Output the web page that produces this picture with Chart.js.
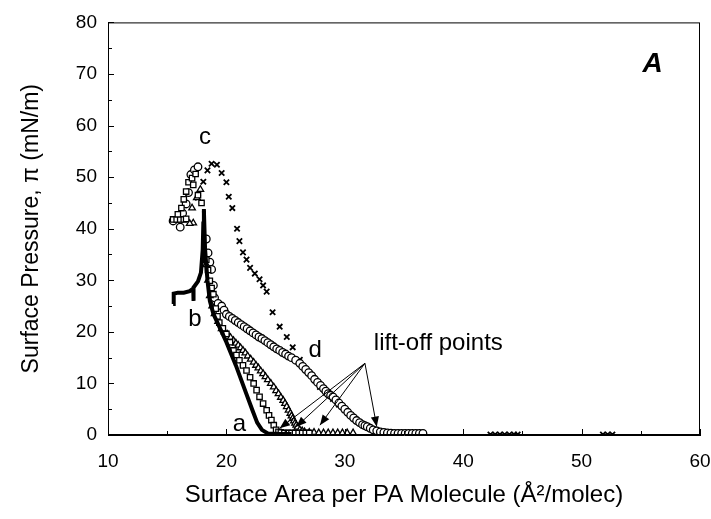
<!DOCTYPE html>
<html>
<head>
<meta charset="utf-8">
<script src="https://cdn.jsdelivr.net/npm/chart.js@4.4.1/dist/chart.umd.min.js"></script>
<style>
  html, body { margin: 0; padding: 0; background: #fff; }
  #wrap { width: 711px; height: 519px; }
</style>
</head>
<body>
<div id="wrap"><canvas id="chart"></canvas></div>
<script>
// isotherm a (thick line)
var aX = [18.1, 18.2, 18.4, 18.6, 18.9, 19.3, 20.0, 20.8, 21.6, 22.2, 22.6, 23.0, 23.5, 24.5, 25.5];
var aY = [43.5, 36.0, 30.0, 26.0, 23.5, 21.5, 18.0, 13.5, 8.5, 4.8, 2.4, 1.0, 0.3, 0.2, 0.2];

// isotherm b (thick line, collapse plateau)
var bX = [15.5, 15.55, 15.9, 16.4, 16.9, 17.2, 17.2, 17.25, 17.6, 17.85, 18.0, 18.05, 18.1];
var bY = [25.4, 27.4, 27.6, 27.6, 27.9, 28.4, 26.0, 28.6, 29.8, 31.5, 36.0, 41.0, 43.8];

// open squares
var sqX = [15.5, 15.8, 16.1, 16.4, 16.6, 15.9, 16.2, 16.4, 16.6, 16.8, 17.1, 17.4, 17.2, 17.6, 17.9,
           18.3, 18.45, 18.6, 18.75, 18.9, 19.1, 19.25, 19.4, 19.7, 20.0, 20.3, 20.6, 20.85, 21.1, 21.4, 21.7,
           22.0, 22.3, 22.55, 22.8, 23.1, 23.4, 23.6, 23.8, 24.0, 24.2, 24.4, 24.6, 24.9, 25.2, 25.5, 25.8,
           26.1, 26.4, 26.7, 27.0];
var sqY = [41.8, 41.8, 41.8, 41.8, 41.9, 42.8, 44.0, 45.7, 47.2, 49.0, 49.8, 50.6, 48.5, 46.5, 45.0,
           34.0, 32.0, 29.9, 28.5, 27.3, 24.5, 23.0, 21.8, 20.7, 19.6, 18.0, 16.4, 15.5, 14.5, 13.5, 12.5,
           11.2, 10.0, 8.7, 7.4, 6.1, 4.8, 3.8, 2.9, 1.9, 1.0, 0.6, 0.5, 0.4, 0.4, 0.4, 0.4,
           0.4, 0.4, 0.4, 0.4];

// open triangles
var trX = [17.1, 17.2, 17.5, 17.8, 16.9,
           18.3, 18.45, 18.6, 18.8, 19.0, 19.3, 19.6, 19.85, 20.1, 20.35, 20.6, 20.8, 21.0, 21.2, 21.4, 21.6,
           21.8, 22.05, 22.3, 22.5, 22.7, 22.9, 23.1, 23.3, 23.5, 23.75, 24.0, 24.2, 24.4, 24.6, 24.8, 24.95,
           25.1, 25.25, 25.4, 25.5, 25.6, 25.7, 25.8, 25.9, 26.0, 26.2, 26.4, 26.6,
           27.0, 27.4, 27.8, 28.2, 28.6, 29.0, 29.4, 29.8, 30.2, 30.7];
var trY = [44.0, 41.1, 46.0, 47.6, 41.0,
           33.0, 30.0, 27.0, 25.0, 23.5, 22.0, 20.6, 20.0, 19.5, 18.9, 18.3, 17.8, 17.4, 16.9, 16.4, 15.9,
           15.3, 14.7, 14.1, 13.5, 13.0, 12.4, 11.9, 11.3, 10.7, 10.0, 9.3, 8.6, 8.0, 7.3, 6.7, 6.1,
           5.5, 4.8, 4.2, 3.7, 3.2, 2.7, 2.3, 1.9, 1.5, 1.0, 0.8, 0.6,
           0.5, 0.5, 0.4, 0.4, 0.4, 0.4, 0.4, 0.4, 0.4, 0.4];

// open circles (d)
var dX = [15.5, 16.1, 16.3, 16.6, 16.8, 17.0, 17.3, 17.6,
          18.3, 18.45, 18.6, 18.75, 18.9, 19.0, 19.3, 19.6, 19.8, 20.0, 20.25, 20.5, 20.75, 21.0, 21.25, 21.5,
          21.75, 22.0, 22.25, 22.5, 22.75, 23.0, 23.25, 23.5, 23.75, 24.0, 24.25, 24.5, 24.75, 25.0, 25.25,
          25.5, 25.85, 26.2, 26.45, 26.7, 26.95, 27.2, 27.45, 27.7, 27.95, 28.2, 28.4, 28.6, 28.8, 29.0,
          29.25, 29.5, 29.75, 30.0, 30.25, 30.5, 30.75, 31.0, 31.25, 31.5, 31.7, 31.9, 32.15, 32.4, 32.7,
          33.0, 33.3, 33.6, 33.9, 34.2, 34.5, 34.8, 35.1, 35.4, 35.7, 36.0, 36.3, 36.6];
var dY = [41.5, 40.3, 43.0, 44.8, 47.0, 50.5, 51.4, 52.0,
          38.0, 35.3, 33.5, 32.1, 29.0, 26.6, 25.5, 25.0, 24.2, 23.4, 23.0, 22.6, 22.2, 21.8, 21.4, 21.0,
          20.6, 20.2, 19.8, 19.4, 19.0, 18.7, 18.3, 17.9, 17.5, 17.1, 16.7, 16.4, 16.0, 15.7, 15.3,
          15.0, 14.5, 13.9, 13.3, 12.7, 12.1, 11.5, 10.8, 10.2, 9.6, 9.0, 8.5, 8.0, 7.7, 7.4,
          6.8, 6.2, 5.6, 5.0, 4.4, 3.8, 3.3, 2.8, 2.4, 2.0, 1.8, 1.6, 1.3, 1.0, 0.8,
          0.6, 0.5, 0.4, 0.35, 0.3, 0.3, 0.3, 0.3, 0.3, 0.3, 0.3, 0.3, 0.3];

// crosses (c)
var cX = [17.6, 18.05, 18.4, 18.75, 19.2, 19.6, 20.0, 20.2, 20.5, 20.9, 21.1, 21.4, 21.7, 22.0, 22.4, 22.8,
          23.1, 23.4, 23.9, 24.5, 25.1, 25.6, 26.2, 26.6, 27.0, 27.5, 27.9, 28.4, 29.0, 29.5, 30.0, 30.5,
          31.0, 31.5, 32.0, 32.5, 33.0, 33.5, 34.0, 34.5, 35.0, 35.5, 36.0,
          42.3, 42.7, 43.1, 43.5, 43.9, 44.3, 44.6, 51.8, 52.2, 52.6];
var cY = [46.0, 49.1, 51.3, 52.6, 52.4, 50.8, 49.0, 46.2, 44.0, 40.0, 37.6, 35.4, 34.0, 32.4, 31.3, 30.2,
          29.0, 27.8, 23.8, 21.0, 19.0, 17.0, 14.6, 13.0, 12.0, 10.6, 9.3, 8.2, 7.0, 5.9, 4.8, 3.8,
          2.8, 2.0, 1.4, 0.9, 0.6, 0.4, 0.3, 0.3, 0.3, 0.3, 0.3,
          0.1, 0.1, 0.1, 0.1, 0.1, 0.1, 0.1, 0.1, 0.1, 0.1];

// lift-off arrows: start and tips (data units)
var arrowFrom = [31.7, 13.9];
var arrowTipX = [24.5, 25.9, 27.9, 32.7];
var arrowTipY = [1.3, 1.6, 1.9, 1.6];

var xTicks = [10, 20, 30, 40, 50, 60];
var yTicks = [0, 10, 20, 30, 40, 50, 60, 70, 80];

function pts(xs, ys) {
    var out = [];
    for (var i = 0; i < xs.length; i++) out.push({x: xs[i], y: ys[i]});
    return out;
}

var FONT = "'Liberation Sans', Arial, Helvetica, sans-serif";

// box, inward ticks, labels and arrows
var decor = {
    id: 'decor',
    afterDatasetsDraw: function(chart) {
        var ctx = chart.ctx;
        var xs = chart.scales.x, ys = chart.scales.y;
        var ca = chart.chartArea;
        ctx.save();
        ctx.strokeStyle = '#000';
        ctx.lineWidth = 1;
        ctx.strokeRect(ca.left + 0.5, ca.top + 0.5, ca.right - ca.left - 1, ca.bottom - ca.top - 1);

        ctx.beginPath();
        for (var v = 10; v <= 60; v += 5) {
            var px = Math.round(xs.getPixelForValue(v)) + 0.5;
            var len = (v % 10 === 0) ? 6 : 4;
            ctx.moveTo(px, ca.bottom);
            ctx.lineTo(px, ca.bottom - len);
        }
        for (var w = 0; w <= 80; w += 5) {
            var py = Math.round(ys.getPixelForValue(w)) + 0.5;
            var l2 = (w % 10 === 0) ? 6 : 4;
            ctx.moveTo(ca.left, py);
            ctx.lineTo(ca.left + l2, py);
        }
        ctx.stroke();

        // arrows
        var ox = xs.getPixelForValue(arrowFrom[0]), oy = ys.getPixelForValue(arrowFrom[1]);
        ctx.fillStyle = '#000';
        for (var i = 0; i < arrowTipX.length; i++) {
            var tx = xs.getPixelForValue(arrowTipX[i]), ty = ys.getPixelForValue(arrowTipY[i]);
            ctx.beginPath();
            ctx.moveTo(ox, oy);
            ctx.lineTo(tx, ty);
            ctx.stroke();
            var ang = Math.atan2(ty - oy, tx - ox);
            ctx.beginPath();
            ctx.moveTo(tx, ty);
            ctx.lineTo(tx - 11 * Math.cos(ang - 0.38), ty - 11 * Math.sin(ang - 0.38));
            ctx.lineTo(tx - 11 * Math.cos(ang + 0.38), ty - 11 * Math.sin(ang + 0.38));
            ctx.closePath();
            ctx.fill();
        }

        // labels
        ctx.textAlign = 'center';
        ctx.textBaseline = 'middle';
        ctx.font = '24px ' + FONT;
        var lab = [['a', 21.1, 2.0], ['b', 17.35, 22.5], ['c', 18.2, 57.8], ['d', 27.5, 16.4]];
        lab.forEach(function(t) {
            ctx.fillText(t[0], xs.getPixelForValue(t[1]), ys.getPixelForValue(t[2]));
        });
        ctx.font = '24px ' + FONT;
        ctx.fillText('lift-off points', xs.getPixelForValue(37.9), ys.getPixelForValue(17.7));
        ctx.font = 'italic bold 28px ' + FONT;
        ctx.fillText('A', xs.getPixelForValue(56.0), ys.getPixelForValue(71.9));
        ctx.restore();
    }
};

new Chart(document.getElementById('chart'), {
    type: 'scatter',
    data: {
        datasets: [{
            label: 'a',
            data: pts(aX, aY),
            showLine: true,
            borderColor: '#000',
            borderWidth: 4,
            pointRadius: 0,
            fill: false
        }, {
            label: 'b',
            data: pts(bX, bY),
            showLine: true,
            borderColor: '#000',
            borderWidth: 4,
            pointRadius: 0,
            fill: false
        }, {
            label: 'squares',
            data: pts(sqX, sqY),
            pointStyle: 'rect',
            pointRadius: 3.8,
            borderWidth: 1.3,
            borderColor: '#000',
            backgroundColor: '#fff'
        }, {
            label: 'triangles',
            data: pts(trX, trY),
            pointStyle: 'triangle',
            pointRadius: 3.8,
            borderWidth: 1.3,
            borderColor: '#000',
            backgroundColor: '#fff'
        }, {
            label: 'd',
            data: pts(dX, dY),
            pointStyle: 'circle',
            pointRadius: 3.8,
            borderWidth: 1.3,
            borderColor: '#000',
            backgroundColor: '#fff'
        }, {
            label: 'c',
            data: pts(cX, cY),
            pointStyle: 'crossRot',
            pointRadius: 3.8,
            borderWidth: 1.8,
            borderColor: '#000',
            backgroundColor: '#000'
        }]
    },
    options: {
        responsive: true,
        maintainAspectRatio: false,
        animation: false,
        layout: { padding: { left: 0, right: 0, top: 20, bottom: 0 } },
        plugins: { legend: { display: false }, tooltip: { enabled: false } },
        scales: {
            x: {
                type: 'linear',
                min: 10, max: 60,
                afterFit: function(s) { s.height = 84; s.paddingRight = 11; s.paddingLeft = 0; },
                afterBuildTicks: function(s) { s.ticks = xTicks.map(function(v) { return {value: v}; }); },
                grid: { display: false, drawTicks: false },
                border: { display: true, color: '#000', width: 1 },
                ticks: { color: '#000', padding: 15, font: { family: FONT, size: 19 }, maxRotation: 0 },
                title: {
                    display: true,
                    text: 'Surface Area per PA Molecule (Å²/molec)',
                    color: '#000',
                    font: { family: FONT, size: 24 },
                    padding: { top: 0, bottom: 9 }
                }
            },
            y: {
                type: 'linear',
                min: 0, max: 80,
                afterFit: function(s) { s.width = 108; },
                afterBuildTicks: function(s) { s.ticks = yTicks.map(function(v) { return {value: v}; }); },
                grid: { display: false, drawTicks: false },
                border: { display: true, color: '#000', width: 1 },
                ticks: { color: '#000', padding: 11, font: { family: FONT, size: 19 } },
                title: {
                    display: true,
                    text: 'Surface Pressure, π (mN/m)',
                    color: '#000',
                    font: { family: FONT, size: 23 },
                    padding: { top: 18, bottom: 0 }
                }
            }
        }
    },
    plugins: [decor]
});
</script>
</body>
</html>
